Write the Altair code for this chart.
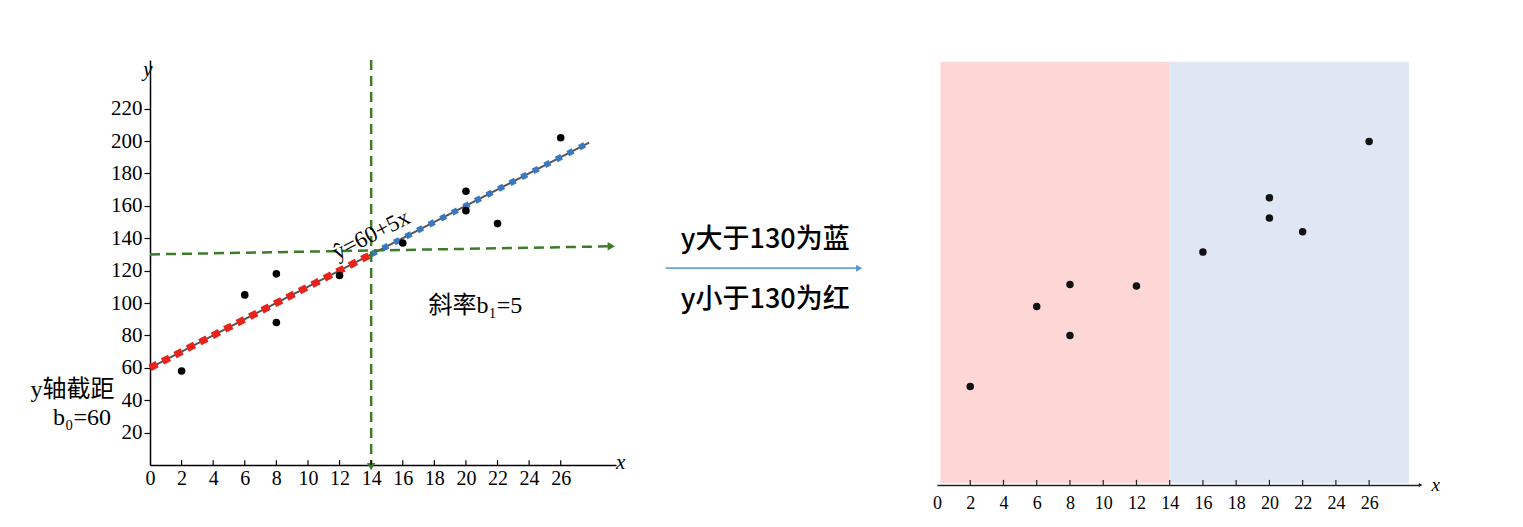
import altair as alt
import pandas as pd

# ---------------- data ----------------
pts_x = [2, 6, 8, 8, 12, 16, 20, 20, 22, 26]
pts_y = [58, 105, 88, 118, 117, 137, 157, 169, 149, 202]

reg_red_x = [0, 14]
reg_red_y = [60, 130]
reg_blue_x = [14, 27.8]
reg_blue_y = [130, 199]

vline_x = 14
vline_y = [250, -1]
hline_x = [0, 29.2]
hline_y = [130, 135]

x_ticks = [0, 2, 4, 6, 8, 10, 12, 14, 16, 18, 20, 22, 24, 26]
y_ticks = [20, 40, 60, 80, 100, 120, 140, 160, 180, 200, 220]
tick_x_right = [2, 4, 6, 8, 10, 12, 14, 16, 18, 20, 22, 24, 26]

zone_names = ["red", "blue"]
zone_x = [0.2, 14]
zone_x2 = [14, 28.4]
zone_y = [1, 1]
zone_y2 = [249, 249]

eq_text = "ŷ=60+5x"
slope_text = "斜率b₁=5"
icpt_text1 = "y轴截距"
icpt_text2 = "b₀=60"
mid_text_top = "y大于130为蓝"
mid_text_bottom = "y小于130为红"

SERIF = "Liberation Serif, Noto Sans CJK SC"
CJK = "Noto Sans CJK SC"
GREEN = "#3d7a2a"
RED = "#e8231c"
BLUE = "#3a78c0"

# ---------------- left panel ----------------
LW, LH = 466, 405
xs_l = alt.Scale(domain=[0, 29.5], nice=False, zero=False)
ys_l = alt.Scale(domain=[0, 250], nice=False, zero=False)

df_pts = pd.DataFrame({"x": pts_x, "y": pts_y})

x_axis_l = alt.Axis(values=x_ticks, title=None, grid=False, ticks=False,
                    domainColor="black", domainWidth=1.5, labelFont=SERIF,
                    labelFontSize=20, labelColor="black", labelPadding=3,
                    labelFlush=False, labelOverlap=False)
y_axis_l = alt.Axis(values=y_ticks, title=None, grid=False, tickColor="black",
                    tickSize=6, tickWidth=1.2, domainColor="black", domainWidth=1.5,
                    labelFont=SERIF, labelFontSize=21, labelColor="black",
                    labelPadding=2, labelOverlap=False)

def XL(field="x:Q"):
    return alt.X(field, scale=xs_l, axis=x_axis_l)

def YL(field="y:Q"):
    return alt.Y(field, scale=ys_l, axis=y_axis_l)

pts_l = alt.Chart(df_pts).mark_circle(size=58, color="black", opacity=1).encode(x=XL(), y=YL())

df_xt = pd.DataFrame({"x": x_ticks[1:], "y0": [0] * (len(x_ticks) - 1), "y1": [3] * (len(x_ticks) - 1)})
ticks_l = alt.Chart(df_xt).mark_rule(color="black", strokeWidth=1.2).encode(
    x=XL(), y=YL("y0:Q"), y2="y1:Q")

df_reg = pd.DataFrame({"x": reg_red_x + reg_blue_x, "y": reg_red_y + reg_blue_y})
reg_line = alt.Chart(df_reg).mark_line(color="#555", strokeWidth=2).encode(x=XL(), y=YL())
red_line = alt.Chart(pd.DataFrame({"x": reg_red_x, "y": reg_red_y})).mark_line(
    color=RED, strokeWidth=7, strokeDash=[8, 6]).encode(x=XL(), y=YL())
blue_line = alt.Chart(pd.DataFrame({"x": reg_blue_x, "y": reg_blue_y})).mark_line(
    color=BLUE, strokeWidth=6, strokeDash=[6, 7]).encode(x=XL(), y=YL())

vline = alt.Chart(pd.DataFrame({"x": [vline_x], "y": [vline_y[0]], "y2": [vline_y[1]]})).mark_rule(
    color=GREEN, strokeWidth=2.5, strokeDash=[10, 6]).encode(x=XL(), y=YL(), y2="y2:Q")
hline = alt.Chart(pd.DataFrame({"x": [hline_x[0]], "x2": [hline_x[1]], "y": [hline_y[0]], "y2": [hline_y[1]]})).mark_rule(
    color=GREEN, strokeWidth=2.5, strokeDash=[10, 6]).encode(x=XL(), x2="x2:Q", y=YL(), y2="y2:Q")
arrow_r = alt.Chart(pd.DataFrame({"x": [hline_x[1]], "y": [hline_y[1]]})).mark_point(
    shape="triangle-right", filled=True, size=70, color=GREEN, opacity=1).encode(x=XL(), y=YL())
arrow_d = alt.Chart(pd.DataFrame({"x": [vline_x], "y": [vline_y[1]]})).mark_point(
    shape="triangle-down", filled=True, size=70, color=GREEN, opacity=1).encode(x=XL(), y=YL())

def txt(x, y, t, **kw):
    return alt.Chart(pd.DataFrame({"x": [x], "y": [y], "t": [t]})).mark_text(**kw).encode(
        x=XL(), y=YL(), text="t:N")

eq = txt(14.0, 142, eq_text, angle=333, font=SERIF, fontSize=23, color="black")
slope = txt(20.6, 98, slope_text, font=SERIF, fontSize=24, color="black")
icpt1 = txt(-4.9, 46, icpt_text1, font=SERIF, fontSize=24, color="black")
icpt2 = txt(-4.3, 29, icpt_text2, font=SERIF, fontSize=24, color="black")
ylab = txt(0, 244, "y", font=SERIF, fontSize=21, fontStyle="italic", color="black", dx=-2)
xlab = txt(29.8, 1, "x", font=SERIF, fontSize=21, fontStyle="italic", color="black")

left = alt.layer(reg_line, red_line, blue_line, vline, hline, arrow_r, arrow_d, pts_l, ticks_l,
                 eq, slope, icpt1, icpt2, ylab, xlab).properties(width=LW, height=LH)

# ---------------- middle panel ----------------
MW, MH = 306, 405
xs_m = alt.Scale(domain=[0, 1], nice=False, zero=False)
ys_m = alt.Scale(domain=[0, 1], nice=False, zero=False)
mid_txt = alt.Chart(pd.DataFrame({"x": [0.455, 0.455], "y": [0.556, 0.407],
                                  "t": [mid_text_top, mid_text_bottom]})).mark_text(
    font=CJK, fontSize=27, fontWeight=500, color="black").encode(
    x=alt.X("x:Q", scale=xs_m, axis=None), y=alt.Y("y:Q", scale=ys_m, axis=None), text="t:N")
mid_rule = alt.Chart(pd.DataFrame({"x": [0.13], "x2": [0.755], "y": [0.486]})).mark_rule(
    color="#6a9fd8", strokeWidth=1.6).encode(
    x=alt.X("x:Q", scale=xs_m, axis=None), x2="x2:Q", y=alt.Y("y:Q", scale=ys_m, axis=None))
mid_head = alt.Chart(pd.DataFrame({"x": [0.762], "y": [0.486]})).mark_point(
    shape="triangle-right", filled=True, size=50, color="#5b93d3", opacity=1).encode(
    x=alt.X("x:Q", scale=xs_m, axis=None), y=alt.Y("y:Q", scale=ys_m, axis=None))
middle = alt.layer(mid_rule, mid_head, mid_txt).properties(width=MW, height=MH)

# ---------------- right panel ----------------
RW, RH = 482, 425
xs_r = alt.Scale(domain=[0, 29], nice=False, zero=False)
ys_r = alt.Scale(domain=[0, 250], nice=False, zero=False)

x_axis_r = alt.Axis(values=x_ticks, title=None, grid=False, ticks=False,
                    domainColor="#222", domainWidth=1.5, labelFont=SERIF,
                    labelFontSize=18, labelColor="black", labelPadding=9,
                    labelFlush=False, labelOverlap=False)

def XR(field="x:Q"):
    return alt.X(field, scale=xs_r, axis=x_axis_r)

def YR(field="y:Q"):
    return alt.Y(field, scale=ys_r, axis=None)

df_zone = pd.DataFrame({"zone": zone_names, "x": zone_x, "x2": zone_x2, "y": zone_y, "y2": zone_y2})
zones = alt.Chart(df_zone).mark_rect().encode(
    x=XR(), x2="x2:Q", y=YR(), y2="y2:Q",
    color=alt.Color("zone:N", scale=alt.Scale(domain=zone_names, range=["#fdd6d6", "#dee7f3"]), legend=None),
)
df_xtr = pd.DataFrame({"x": tick_x_right, "y0": [0] * len(tick_x_right), "y1": [3] * len(tick_x_right)})
ticks_r = alt.Chart(df_xtr).mark_rule(color="#222", strokeWidth=1.2).encode(
    x=XR(), y=YR("y0:Q"), y2="y1:Q")
pts_r = alt.Chart(df_pts).mark_circle(size=56, color="#111", opacity=1).encode(x=XR(), y=YR())
head_r = alt.Chart(pd.DataFrame({"x": [29.1], "y": [0]})).mark_point(
    shape="triangle-right", filled=True, size=18, color="#222", opacity=1).encode(x=XR(), y=YR())
xlab_r = alt.Chart(pd.DataFrame({"x": [30.0], "y": [0], "t": ["x"]})).mark_text(
    font=SERIF, fontSize=19, fontStyle="italic", color="black").encode(x=XR(), y=YR(), text="t:N")
right = alt.layer(zones, ticks_r, pts_r, head_r, xlab_r).properties(width=RW, height=RH)

chart = alt.hconcat(left, middle, right, spacing=0).properties(
    padding={"left": 22, "top": 50, "right": 5, "bottom": 5}, background="white"
).configure_view(stroke="transparent", strokeWidth=0).configure_axis(labelOverlap=False)

chart.save("out.html", embed_options={"renderer": "svg", "actions": False})
